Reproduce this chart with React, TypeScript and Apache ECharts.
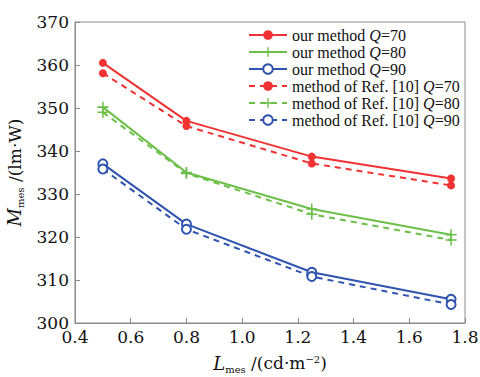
import React, { useEffect, useRef } from "react";
import * as echarts from "echarts";

const xValues = [0.5, 0.8, 1.25, 1.75];
const ourQ70 = [360.5, 347.0, 338.7, 333.6];
const ourQ80 = [350.2, 335.0, 326.5, 320.5];
const ourQ90 = [337.0, 323.0, 311.8, 305.5];
const refQ70 = [358.1, 345.8, 337.1, 332.0];
const refQ80 = [349.0, 334.8, 325.3, 319.3];
const refQ90 = [335.8, 321.8, 310.8, 304.3];

const seriesNames = [
  "our method Q=70",
  "our method Q=80",
  "our method Q=90",
  "method of Ref. [10] Q=70",
  "method of Ref. [10] Q=80",
  "method of Ref. [10] Q=90",
];

const RED = "#f03232";
const GREEN = "#6cbf48";
const BLUE = "#2f54b0";
const FONT = "DejaVu Serif";
const LFONT = "Liberation Serif";
const PLUS = "path://M-0.7,-5H0.7V-0.7H5V0.7H0.7V5H-0.7V0.7H-5V-0.7H-0.7Z";

export default function App() {
  const ref = useRef<HTMLDivElement>(null);
  useEffect(() => {
    if (!ref.current) return;
    document.body.style.margin = "0";
    const chart = echarts.init(ref.current, null, { renderer: "svg" });
    const mk = (vals: number[]) => xValues.map((x, i) => [x, vals[i]]);
    const specs = [
      { data: ourQ70, color: RED, dashed: false, symbol: "circle", size: 8 },
      { data: ourQ80, color: GREEN, dashed: false, symbol: PLUS, size: 11 },
      { data: ourQ90, color: BLUE, dashed: false, symbol: "emptyCircle", size: 9 },
      { data: refQ70, color: RED, dashed: true, symbol: "circle", size: 8 },
      { data: refQ80, color: GREEN, dashed: true, symbol: PLUS, size: 11 },
      { data: refQ90, color: BLUE, dashed: true, symbol: "emptyCircle", size: 9 },
    ];
    chart.setOption({
      animation: false,
      backgroundColor: "#ffffff",
      grid: {
        left: 75,
        right: 15,
        top: 22,
        bottom: 54,
        show: true,
        borderColor: "#8a8a8a",
        borderWidth: 1,
        containLabel: false,
        outerBoundsMode: "none",
      },
      legend: {
        top: 27,
        left: 248,
        padding: 0,
        orient: "vertical",
        itemWidth: 38,
        itemHeight: 12,
        itemGap: 1,
        data: seriesNames,
        formatter: (name: string) => name.replace("Q=", "{i|Q}="),
        textStyle: {
          fontFamily: LFONT,
          fontSize: 16,
          lineHeight: 16,
          color: "#111",
          rich: {
            i: { fontFamily: LFONT, fontSize: 16, lineHeight: 16, fontStyle: "italic", color: "#111" },
          },
        },
      },
      xAxis: {
        type: "value",
        min: 0.4,
        max: 1.8,
        interval: 0.2,
        axisLine: { lineStyle: { color: "#8a8a8a" } },
        axisTick: { inside: true, length: 5, lineStyle: { color: "#8a8a8a" } },
        splitLine: { show: false },
        axisLabel: {
          color: "#111",
          fontFamily: FONT,
          fontSize: 17,
          margin: 5,
          formatter: (v: number) => v.toFixed(1),
        },
        name: "{i|L}{sub|mes} /(cd·m{sup|−2})",
        nameLocation: "middle",
        nameGap: 29,
        nameTextStyle: {
          fontFamily: FONT,
          fontSize: 17,
          color: "#111",
          rich: {
            i: { fontFamily: FONT, fontSize: 18, fontStyle: "italic", color: "#111" },
            sub: { fontFamily: FONT, fontSize: 10, color: "#111", padding: [12, 0, 0, 0] },
            sup: { fontFamily: FONT, fontSize: 10, color: "#111", padding: [0, 0, 8, 0] },
          },
        },
      },
      yAxis: {
        type: "value",
        min: 300,
        max: 370,
        interval: 10,
        axisLine: { lineStyle: { color: "#8a8a8a" } },
        axisTick: { inside: true, length: 5, lineStyle: { color: "#8a8a8a" } },
        splitLine: { show: false },
        axisLabel: {
          color: "#111",
          fontFamily: FONT,
          fontSize: 17,
          margin: 6,
        },
        name: "{i|M}{sub|mes} /(lm·W)",
        nameLocation: "middle",
        nameGap: 47,
        nameRotate: 90,
        nameTextStyle: {
          fontFamily: FONT,
          fontSize: 17,
          color: "#111",
          rich: {
            i: { fontFamily: FONT, fontSize: 18, fontStyle: "italic", color: "#111" },
            sub: { fontFamily: FONT, fontSize: 10, color: "#111", padding: [12, 0, 0, 0] },
          },
        },
      },
      series: specs.map((s, i) => ({
        name: seriesNames[i],
        type: "line",
        data: mk(s.data),
        symbol: s.symbol,
        symbolSize: s.size,
        showSymbol: true,
        color: s.color,
        lineStyle: { color: s.color, width: 2, type: s.dashed ? [6, 5] : "solid" },
        itemStyle: {
          color: s.color,
          borderColor: s.color,
          borderWidth: s.symbol === "emptyCircle" ? 2 : 0,
        },
      })),
    });
    return () => chart.dispose();
  }, []);
  return <div ref={ref} style={{ width: 480, height: 377 }} />;
}
